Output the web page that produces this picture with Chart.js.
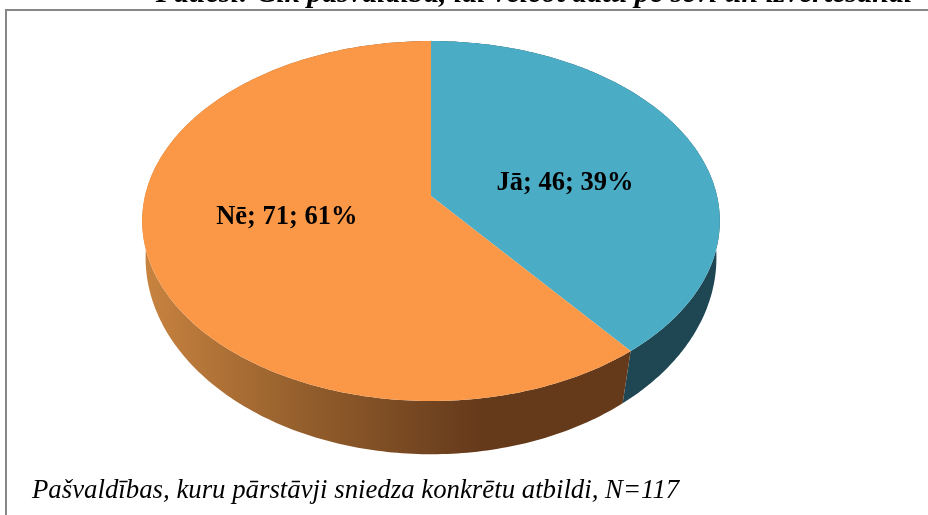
<!DOCTYPE html>
<html><head><meta charset="utf-8">
<script src="https://cdn.jsdelivr.net/npm/chart.js@4"></script>
<style>html,body{margin:0;padding:0;background:#fff;overflow:hidden}canvas{display:block}</style>
</head><body><div style="width:928px;height:515px;position:relative"><canvas id="c" width="928" height="515"></canvas></div>
<script>
const categories = ['Jā', 'Nē'];
const values = [46, 71];
const percents = ['39%', '61%'];
const titleText = 'Patiesi: Cik pašvaldībā, lai veicot datu pē sevi un izvērtēšanai';
const footnote = 'Pašvaldības, kuru pārstāvji sniedza konkrētu atbildi, N=117';

const topColors = ['#4BACC6', '#FB9848'];
const sideColors = ['#1E4653', null];
const labelOffsets = [[2, 13.5], [-6, -11]];

// perspective views of the upper and lower rims of the pie disc
const upper = {cx: 431, cy: 196, rx: 286, ry: 176.5, k: 0.139};
const lower = {cx: 431, cy: 238, rx: 284, ry: 194.6, k: 0.10};
function project(view, angle, radius) {
  const u = Math.cos(angle) * radius, v = Math.sin(angle) * radius;
  const w = 1 - view.k * v;
  return [view.cx + view.rx * u / w, view.cy + view.ry * v / w];
}
function rim(ctx, view, a0, a1, first) {
  const n = 240;
  for (let i = 0; i <= n; i++) {
    const p = project(view, a0 + (a1 - a0) * i / n, 1);
    if (i === 0 && first) ctx.moveTo(p[0], p[1]); else ctx.lineTo(p[0], p[1]);
  }
}
const pie3d = {
  id: 'pie3d',
  beforeDatasetDraw(chart) {
    const ctx = chart.ctx, arcs = chart.getDatasetMeta(0).data;
    ctx.save();
    const grad = ctx.createLinearGradient(145, 0, 480, 0);
    grad.addColorStop(0, '#C88340');
    grad.addColorStop(0.45, '#96602D');
    grad.addColorStop(1, '#653A1B');
    arcs.forEach((arc, i) => {
      ctx.beginPath();
      rim(ctx, upper, arc.startAngle, arc.endAngle, true);
      rim(ctx, lower, arc.endAngle, arc.startAngle, false);
      ctx.closePath();
      ctx.fillStyle = sideColors[i] || grad;
      ctx.fill();
    });
    arcs.forEach((arc, i) => {
      ctx.beginPath();
      ctx.moveTo(upper.cx, upper.cy);
      rim(ctx, upper, arc.startAngle, arc.endAngle, false);
      ctx.closePath();
      ctx.fillStyle = topColors[i];
      ctx.fill();
    });
    ctx.restore();
    return false;
  },
  afterDraw(chart) {
    const ctx = chart.ctx, arcs = chart.getDatasetMeta(0).data;
    ctx.save();
    ctx.strokeStyle = '#868686';
    ctx.lineWidth = 2;
    ctx.beginPath();
    ctx.moveTo(6, 515); ctx.lineTo(6, 10); ctx.lineTo(928, 10);
    ctx.stroke();
    ctx.fillStyle = '#000';
    ctx.textBaseline = 'alphabetic';
    ctx.textAlign = 'center';
    ctx.font = 'bold italic 30px "Liberation Serif"';
    ctx.fillText(titleText, 534, 1.5);
    ctx.font = 'bold 26.5px "Liberation Serif"';
    arcs.forEach((arc, i) => {
      const mid = (arc.startAngle + arc.endAngle) / 2;
      const p = project(upper, mid, 0.5);
      ctx.fillText(categories[i] + '; ' + values[i] + '; ' + percents[i], p[0] + labelOffsets[i][0], p[1] + labelOffsets[i][1] + 9);
    });
    ctx.textAlign = 'left';
    ctx.font = 'italic 26.8px "Liberation Serif"';
    ctx.fillText(footnote, 32, 498);
    ctx.restore();
  }
};
new Chart(document.getElementById('c'), {
  type: 'pie',
  data: {labels: categories, datasets: [{data: values, backgroundColor: topColors, borderWidth: 0}]},
  options: {
    responsive: false, animation: false,
    plugins: {legend: {display: false}, tooltip: {enabled: false}, title: {display: false}}
  },
  plugins: [pie3d]
});
</script></body></html>
